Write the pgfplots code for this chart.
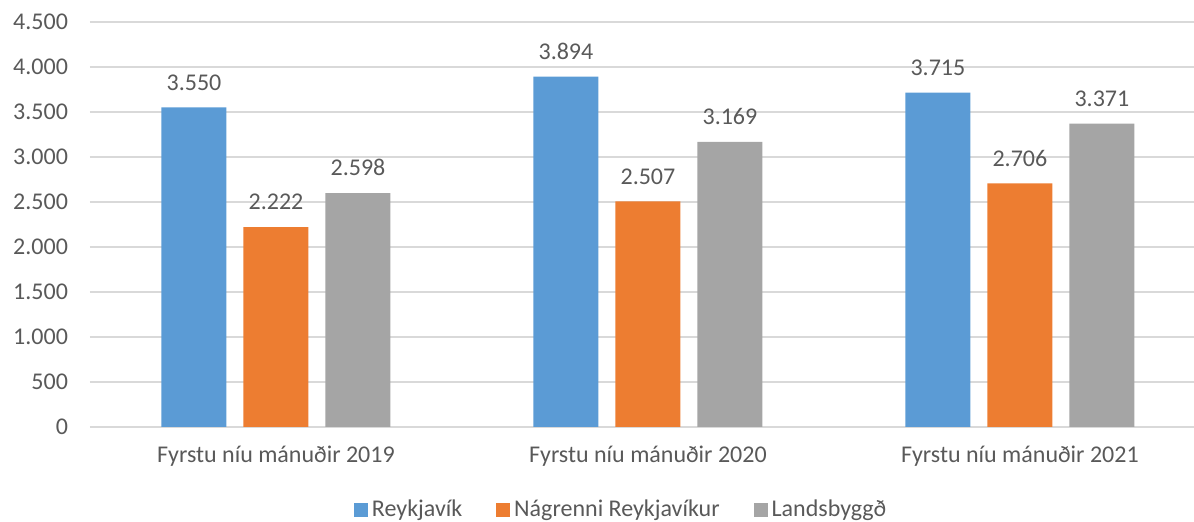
\documentclass[border=0pt]{standalone}
\usepackage{pgfplots}
\pgfplotsset{compat=1.18}
\usepackage{fontspec}
\setmainfont{Carlito}
\definecolor{cBlue}{HTML}{5B9BD5}
\definecolor{cOrange}{HTML}{ED7D31}
\definecolor{cGray}{HTML}{A5A5A5}
\definecolor{txt}{HTML}{595959}
\definecolor{grid}{HTML}{D9D9D9}
\begin{document}
\begin{tikzpicture}
\begin{axis}[
  name=ax,
  scale only axis,
  width=552pt, height=202.5pt,
  xmin=-0.5, xmax=2.468,
  ymin=0, ymax=4500,
  ytick={0,500,...,4500},
  xtick={0,1,2},
  xticklabels={Fyrstu níu mánuðir 2019,Fyrstu níu mánuðir 2020,Fyrstu níu mánuðir 2021},
  ybar, bar width=32.5pt,
  axis line style={draw=none},
  major tick length=0pt,
  xtick style={draw=none}, ytick style={draw=none},
  xmajorgrids=false,
  ymajorgrids, y grid style={grid, line width=1pt},
  clip=false,
  font=\fontsize{12pt}{14pt}\selectfont,
  tick label style={text=txt},
  xticklabel style={yshift=-6pt},
  yticklabel style={xshift=-7.5pt},
  /pgf/number format/assume math mode=true,
  /pgf/number format/1000 sep={.},
  scaled y ticks=false,
  nodes near coords,
  nodes near coords style={text=txt, yshift=5pt, /pgf/number format/1000 sep={.}},
  legend columns=3,
  legend style={draw=none, at={(0.482,-0.205)}, anchor=center, text=txt,
    /tikz/every even column/.append style={column sep=15pt}},
  legend image code/.code={\fill[#1,draw=none] (0pt,-3.5pt) rectangle (7pt,3.5pt);},
]
\addplot[fill=cBlue, draw=none, bar shift=-41pt] coordinates {(0,3550) (1,3894) (2,3715)};
\addplot[fill=cOrange, draw=none, bar shift=0pt] coordinates {(0,2222) (1,2507) (2,2706)};
\addplot[fill=cGray, draw=none, bar shift=41pt] coordinates {(0,2598) (1,3169) (2,3371)};
\legend{Reykjavík,Nágrenni Reykjavíkur,Landsbyggð}
\end{axis}
\pgfresetboundingbox
\path ([xshift=-45pt,yshift=-47.5pt]ax.south west) rectangle ++(597pt,261pt);
\end{tikzpicture}
\end{document}
